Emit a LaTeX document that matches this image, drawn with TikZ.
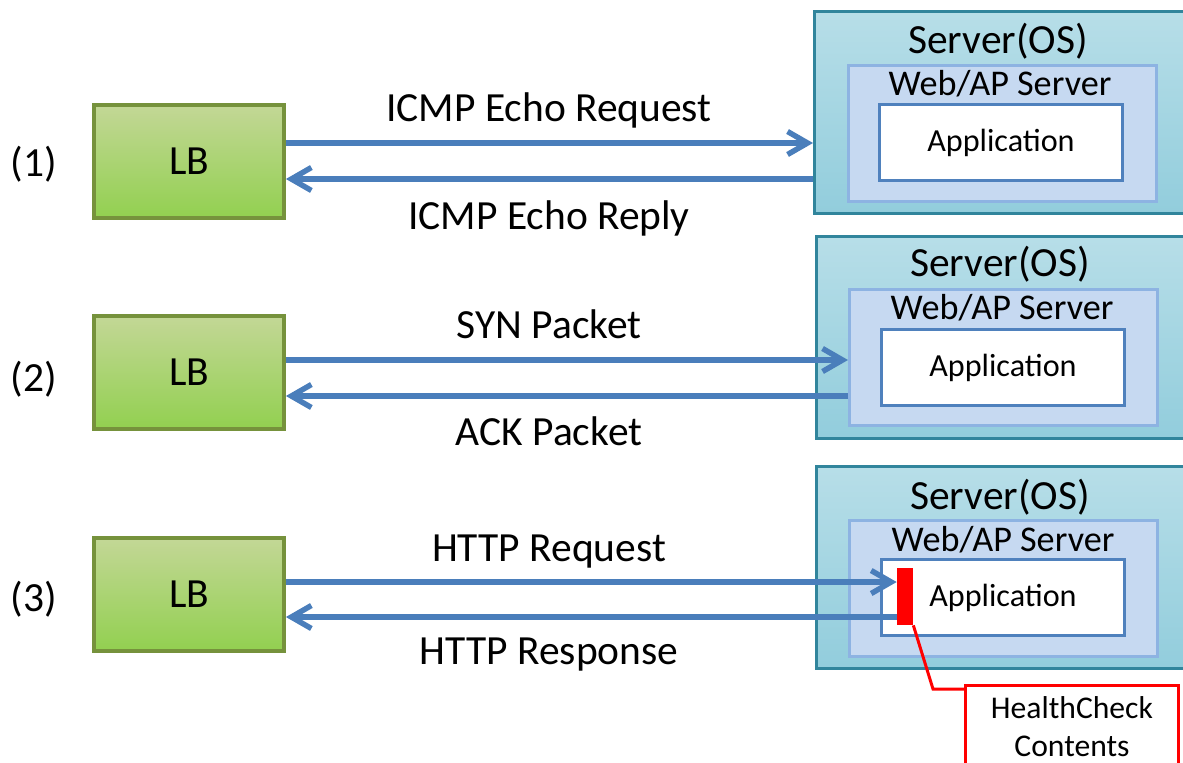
\documentclass[tikz,border=0pt]{standalone}
\usepackage{fontspec}
\setmainfont{Carlito}
\usepackage{tikz}
\usetikzlibrary{arrows.meta}

\definecolor{lbtop}{HTML}{C3D796}
\definecolor{lbbot}{HTML}{92D050}
\definecolor{lbedge}{HTML}{76923C}
\definecolor{ostop}{HTML}{B7DEE8}
\definecolor{osbot}{HTML}{92CDDC}
\definecolor{osedge}{HTML}{31859C}
\definecolor{webfill}{HTML}{C6D9F1}
\definecolor{webedge}{HTML}{8DB3E2}
\definecolor{appedge}{HTML}{4F81BD}
\definecolor{flowblue}{HTML}{4A7EBB}

\begin{document}
\begin{tikzpicture}[x=0.02cm, y=-0.02cm,
    txt/.style={font=\fontsize{23.6}{28}\selectfont, text height=15.2pt, text depth=0pt, inner sep=0pt},
    small/.style={font=\fontsize{20.6}{24}\selectfont, text height=13.3pt, text depth=0pt, inner sep=0pt},
    lb/.style={draw=lbedge, line width=2.2pt, top color=lbtop, bottom color=lbbot,
        minimum width=3.8cm, minimum height=2.26cm, txt},
    osbox/.style={draw=osedge, line width=1.7pt, top color=ostop, bottom color=osbot,
        anchor=north west, minimum width=7.6cm, minimum height=4.04cm},
    webbox/.style={draw=webedge, line width=1.7pt, fill=webfill,
        anchor=north west, minimum width=6.16cm, minimum height=2.72cm},
    appbox/.style={draw=appedge, line width=1.7pt, fill=white, anchor=north west,
        minimum width=4.86cm, minimum height=1.52cm, font=\fontsize{18.3}{22}\selectfont},
    flow/.style={draw=flowblue, line width=3.1pt, -{Straight Barb[length=4mm,width=4.6mm]}},
    callout/.style={draw=red, line width=1.7pt}
]

\useasboundingbox (0,0) rectangle (1183,762);
\clip (0,0) rectangle (1183,762);

% Load balancers
\node[lb] (lbA) at (189,161.5) {LB};
\node[lb] (lbB) at (189,372.5) {LB};
\node[lb] (lbC) at (189,594.5) {LB};

\node[txt] (numA) at (34,163) {(1)};
\node[txt] (numB) at (34,378) {(2)};
\node[txt] (numC) at (34,598) {(3)};

% Server (1)
\node[osbox] (osA) at (813,10) {};
\node[txt] (osAlbl) at (998,40) {Server(OS)};
\node[webbox] (webA) at (847,64) {};
\node[small] (webAlbl) at (1000,84) {Web/AP Server};
\node[appbox] (appA) at (878,103) {Application};

% Server (2)
\node[osbox] (osB) at (815,235) {};
\node[txt] (osBlbl) at (1000,263) {Server(OS)};
\node[webbox] (webB) at (848,288) {};
\node[small] (webBlbl) at (1002,308) {Web/AP Server};
\node[appbox] (appB) at (880,328) {Application};

% Server (3)
\node[osbox] (osC) at (815,465) {};
\node[txt] (osClbl) at (1000,496) {Server(OS)};
\node[webbox] (webC) at (848,519) {};
\node[small] (webClbl) at (1003,540) {Web/AP Server};
\node[appbox] (appC) at (880,558) {Application};

% HealthCheck contents
\node[fill=red, inner sep=0pt, minimum width=0.32cm, minimum height=1.14cm] (hcbar) at (905,596.5) {};
\node[callout, fill=white, anchor=north west, minimum width=4.26cm, minimum height=1.64cm,
    align=center, font=\fontsize{18}{21.6}\selectfont] (hcbox) at (964,684) {HealthCheck\\Contents};
\coordinate (hcbend) at (933,689);
\draw[callout] (hcbar.south east) -- (hcbend) -- (hcbox.west |- hcbend);

% (1) ICMP
\draw[flow] (lbA.east |- 0,143) -- (osA.west |- 0,143);
\draw[flow] (osA.west |- 0,179) -- (lbA.east |- 0,179);
\node[txt] (reqA) at (549,108) {ICMP Echo Request};
\node[txt] (repA) at (549,216) {ICMP Echo Reply};

% (2) TCP
\draw[flow] (lbB.east |- 0,360) -- (webB.west |- 0,360);
\draw[flow] (webB.west |- 0,396) -- (lbB.east |- 0,396);
\node[txt] (reqB) at (549,325) {SYN Packet};
\node[txt] (repB) at (549,432) {ACK Packet};

% (3) HTTP
\draw[flow] (lbC.east |- 0,582) -- (hcbar.west |- 0,582);
\draw[flow] (hcbar.west |- 0,617) -- (lbC.east |- 0,617);
\node[txt] (reqC) at (549,548) {HTTP Request};
\node[txt] (repC) at (549,651) {HTTP Response};

\end{tikzpicture}
\end{document}
